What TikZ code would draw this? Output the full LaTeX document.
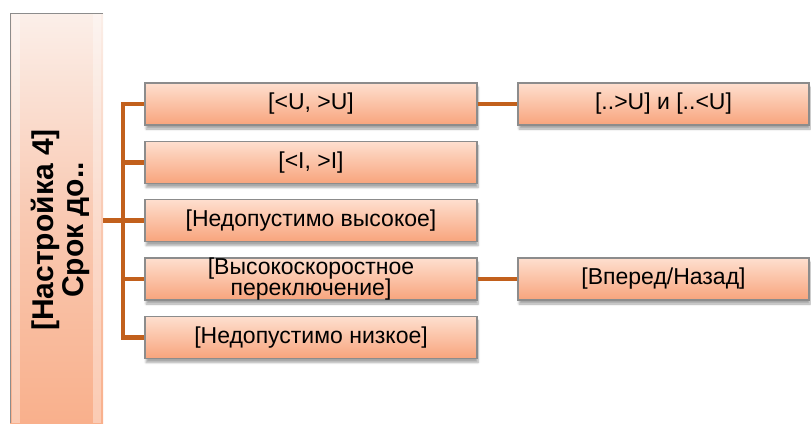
\documentclass[tikz,border=0pt]{standalone}
\usepackage{fontspec}
\setmainfont{Liberation Sans}
\usetikzlibrary{shadows.blur}
\definecolor{conn}{HTML}{C2601C}
\definecolor{boxtop}{HTML}{FEDFCF}
\definecolor{boxbot}{HTML}{F8A47C}
\definecolor{boxline}{HTML}{8C8C8C}
\definecolor{ltop}{HTML}{FBEFE9}
\definecolor{lmid}{HTML}{F9C9B2}
\definecolor{lbot}{HTML}{F9B08C}
\tikzset{
  itembox/.style={draw=boxline, line width=1.1pt, top color=boxtop, bottom color=boxbot,
    minimum height=42pt, inner sep=0pt, align=center,
    font=\fontsize{23}{21.5}\selectfont,
    blur shadow={shadow xshift=1pt, shadow yshift=-4pt, shadow blur steps=6, shadow opacity=35}},
  colone/.style={itembox, minimum width=332pt},
  coltwo/.style={itembox, minimum width=291pt},
  link/.style={draw=conn, line width=4.5pt},
}
\begin{document}
\begin{tikzpicture}[x=1pt,y=-1pt]
\useasboundingbox (0,0) rectangle (811,423);
% left tall box
\fill[top color=ltop, bottom color=lbot, middle color=lmid] (10,13) rectangle (103,423);
\fill[white, opacity=0.35] (12,13) rectangle (20,423);
\fill[white, opacity=0.35] (93,13) rectangle (101,423);
\draw[draw=boxline, line width=1pt] (10,423) -- (10,13) -- (103,13);
\node[minimum width=93pt, minimum height=410pt, inner sep=0pt] (L) at (56.5,218) {};
\node[rotate=90, align=center, font=\bfseries\fontsize{30}{30}\selectfont] (Lt) at (60,230) {[Настройка 4]\\Срок до..};
% column one
\node[colone] (a1) at (311,104) {[<U, >U]};
\node[colone] (a2) at (311,162.5) {[<I, >I]};
\node[colone] (a3) at (311,220.5) {[Недопустимо высокое]};
\node[colone] (a4) at (311,279) {};
\node[align=center, font=\fontsize{23}{21.5}\selectfont] (a4t) at (311,279) {[Высокоскоростное\\переключение]};
\node[colone] (a5) at (311,337.5) {[Недопустимо низкое]};
% column two
\node[coltwo] (b1) at (663.5,104) {[..>U] и [..<U]};
\node[coltwo] (b4) at (663.5,279) {[Вперед/Назад]};
% connectors
\coordinate (j) at (123,220.5);
\draw[link] (L.east |- a3.west) -- (a3.west);
\draw[link] (a1.west) -| (a5.west -| j) -- (a5.west);
\draw[link] (j |- a2.west) -- (a2.west);
\draw[link] (j |- a4.west) -- (a4.west);
\draw[link] (a1.east) -- (b1.west);
\draw[link] (a4.east) -- (b4.west);
\end{tikzpicture}
\end{document}
